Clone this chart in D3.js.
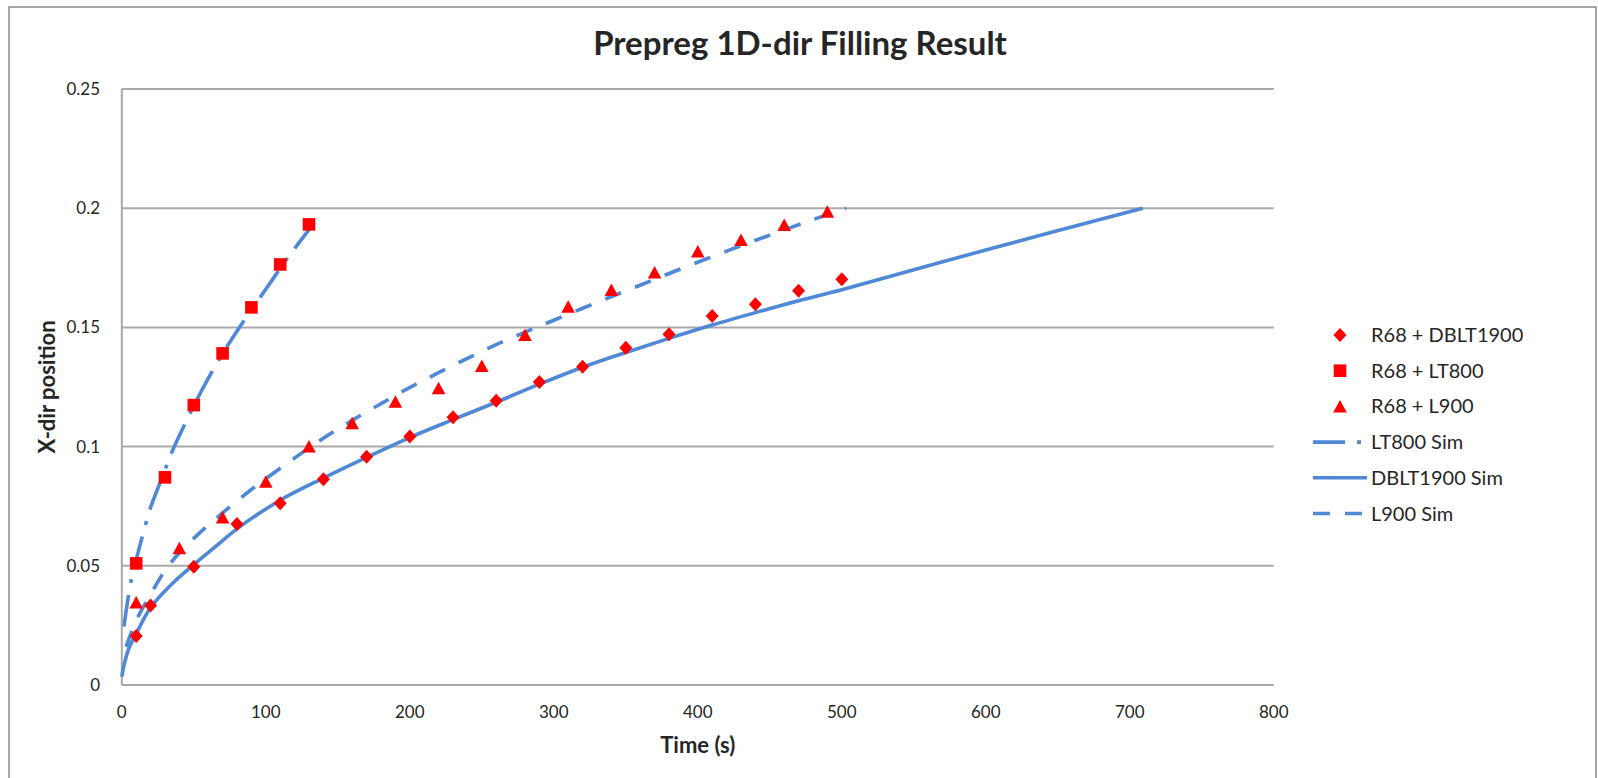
<!DOCTYPE html>
<html>
<head>
<meta charset="utf-8">
<script src="https://cdn.jsdelivr.net/npm/d3@7/dist/d3.min.js"></script>
<style>
  body { margin: 0; background: #fff; }
  text { font-family: Lato, "Open Sans", sans-serif; fill: #262626; }
</style>
</head>
<body>
<svg id="chart" width="1598" height="778"></svg>
<script>
// measured data (time in s, x-dir position)
var dbltTime = [10, 20, 50, 80, 110, 140, 170, 200, 230, 260, 290, 320, 350, 380, 410, 440, 470, 500];
var dbltPos  = [0.0206, 0.0333, 0.0496, 0.0675, 0.0762, 0.0863, 0.0957, 0.1042, 0.1123, 0.1192, 0.1271, 0.1335, 0.1415, 0.1471, 0.1548, 0.1597, 0.1654, 0.1702];

var lt800Time = [10, 30, 50, 70, 90, 110, 130];
var lt800Pos  = [0.0510, 0.0871, 0.1174, 0.1391, 0.1584, 0.1764, 0.1932];

var l900Time = [10, 40, 70, 100, 130, 160, 190, 220, 250, 280, 310, 340, 370, 400, 430, 460, 490];
var l900Pos  = [0.0346, 0.0574, 0.0703, 0.0853, 0.1000, 0.1098, 0.1188, 0.1245, 0.1338, 0.1468, 0.1587, 0.1657, 0.1730, 0.1818, 0.1867, 0.1930, 0.1985];

// simulation curves
var lt800SimTime = [1.5, 3, 6.5, 10, 15, 20, 28, 35, 45, 55, 70, 85, 100, 115, 130, 137];
var lt800SimPos  = [0.0245, 0.031, 0.044, 0.0525, 0.064, 0.0745, 0.087, 0.098, 0.111, 0.123, 0.139, 0.153, 0.166, 0.179, 0.191, 0.1967];

var dbltSimTime = [0, 2, 5, 10, 20, 35, 50, 65, 80, 110, 140, 170, 200, 230, 260, 290, 320, 350, 380, 410, 440, 470, 500, 600, 709];
var dbltSimPos  = [0.0035, 0.0095, 0.0155, 0.0215, 0.0325, 0.0425, 0.0505, 0.058, 0.0655, 0.0775, 0.0868, 0.0955, 0.1038, 0.1113, 0.1186, 0.1262, 0.1333, 0.1395, 0.1454, 0.1510, 0.1562, 0.1612, 0.1658, 0.1825, 0.2];

var l900SimTime = [3, 10, 20, 30, 40, 50, 60, 70, 80, 90, 100, 120, 140, 160, 180, 200, 220, 240, 260, 280, 300, 330, 360, 390, 420, 450, 480, 503];
var l900SimPos  = [0.016, 0.027, 0.038, 0.048, 0.0555, 0.0615, 0.067, 0.0722, 0.0772, 0.082, 0.0865, 0.0952, 0.1035, 0.111, 0.118, 0.1248, 0.131, 0.137, 0.1428, 0.148, 0.153, 0.1605, 0.1677, 0.175, 0.182, 0.1887, 0.1952, 0.2];

var xTicks = [0, 100, 200, 300, 400, 500, 600, 700, 800];
var yTicks = [0, 0.05, 0.1, 0.15, 0.2, 0.25];

var legendLabels = ["R68 + DBLT1900", "R68 + LT800", "R68 + L900", "LT800 Sim", "DBLT1900 Sim", "L900 Sim"];

var red = "#ff0000", blue = "#4f88d6", grid = "#a9a9a9";

function zip(ts, vs) { return ts.map(function(t, i) { return {t: t, v: vs[i]}; }); }

var svg = d3.select("#chart");

// outer frame
svg.append("rect")
  .attr("x", 9).attr("y", 7)
  .attr("width", 1587).attr("height", 800)
  .attr("fill", "none")
  .attr("stroke", "#8a8a8a")
  .attr("stroke-width", 1.5);

var x = d3.scaleLinear().domain([0, 800]).range([121.8, 1273.8]);
var y = d3.scaleLinear().domain([0, 0.25]).range([685, 89]);

// horizontal gridlines
svg.append("g")
  .selectAll("line")
  .data(yTicks)
  .enter().append("line")
    .attr("x1", x(0)).attr("x2", x(800))
    .attr("y1", function(d) { return y(d); })
    .attr("y2", function(d) { return y(d); })
    .attr("stroke", grid)
    .attr("stroke-width", 2);

// vertical axis line
svg.append("line")
  .attr("x1", x(0)).attr("x2", x(0))
  .attr("y1", y(0.25)).attr("y2", y(0))
  .attr("stroke", grid)
  .attr("stroke-width", 2);

// tick labels
svg.append("g")
  .selectAll("text")
  .data(yTicks)
  .enter().append("text")
    .attr("x", 100)
    .attr("y", function(d) { return y(d); })
    .attr("dy", "0.35em")
    .attr("text-anchor", "end")
    .style("font-size", "17px")
    .text(function(d) { return d3.format("~g")(d); });

svg.append("g")
  .selectAll("text")
  .data(xTicks)
  .enter().append("text")
    .attr("x", function(d) { return x(d); })
    .attr("y", 718)
    .attr("text-anchor", "middle")
    .style("font-size", "17px")
    .text(function(d) { return d; });

// titles
svg.append("text")
  .attr("x", 800).attr("y", 55)
  .attr("text-anchor", "middle")
  .style("font-size", "33px").style("font-weight", "bold")
  .text("Prepreg 1D-dir Filling Result");

svg.append("text")
  .attr("x", (x(0) + x(800)) / 2).attr("y", 753)
  .attr("text-anchor", "middle")
  .style("font-size", "22px").style("font-weight", "bold")
  .text("Time (s)");

svg.append("text")
  .attr("transform", "translate(55," + (y(0) + y(0.25)) / 2 + ") rotate(-90)")
  .attr("text-anchor", "middle")
  .style("font-size", "22px").style("font-weight", "bold")
  .text("X-dir position");

// simulation lines
var line = d3.line()
  .x(function(d) { return x(d.t); })
  .y(function(d) { return y(d.v); })
  .curve(d3.curveCatmullRom.alpha(0.5));

var sims = [
  {data: zip(lt800SimTime, lt800SimPos), dash: "32,12,4,12"},
  {data: zip(dbltSimTime, dbltSimPos), dash: null},
  {data: zip(l900SimTime, l900SimPos), dash: "17,15"}
];

svg.append("g")
  .selectAll("path")
  .data(sims)
  .enter().append("path")
    .attr("d", function(d) { return line(d.data); })
    .attr("fill", "none")
    .attr("stroke", blue)
    .attr("stroke-width", 3.6)
    .attr("stroke-dasharray", function(d) { return d.dash; });

// markers
var diamond = "M0,-7L6.5,0L0,7L-6.5,0Z",
    square = "M-6.3,-6.3H6.3V6.3H-6.3Z",
    triangle = "M0,-6.5L6.8,6L-6.8,6Z";

var markerSets = [
  {data: zip(dbltTime, dbltPos), shape: diamond},
  {data: zip(lt800Time, lt800Pos), shape: square},
  {data: zip(l900Time, l900Pos), shape: triangle}
];

markerSets.forEach(function(set) {
  svg.append("g")
    .selectAll("path")
    .data(set.data)
    .enter().append("path")
      .attr("d", set.shape)
      .attr("transform", function(d) { return "translate(" + x(d.t) + "," + y(d.v) + ")"; })
      .attr("fill", red);
});

// legend
var legend = svg.append("g");
var rowY = function(i) { return 335 + i * 35.7; };

legend.selectAll("text")
  .data(legendLabels)
  .enter().append("text")
    .attr("x", 1371)
    .attr("y", function(d, i) { return rowY(i); })
    .attr("dy", "0.35em")
    .style("font-size", "20px")
    .text(function(d) { return d; });

[diamond, square, triangle].forEach(function(shape, i) {
  legend.append("path")
    .attr("d", shape)
    .attr("transform", "translate(1340," + rowY(i) + ")")
    .attr("fill", red);
});

sims.forEach(function(s, i) {
  legend.append("line")
    .attr("x1", 1313).attr("x2", 1367)
    .attr("y1", rowY(i + 3)).attr("y2", rowY(i + 3))
    .attr("stroke", blue)
    .attr("stroke-width", 3.6)
    .attr("stroke-dasharray", s.dash);
});
</script>
</body>
</html>
